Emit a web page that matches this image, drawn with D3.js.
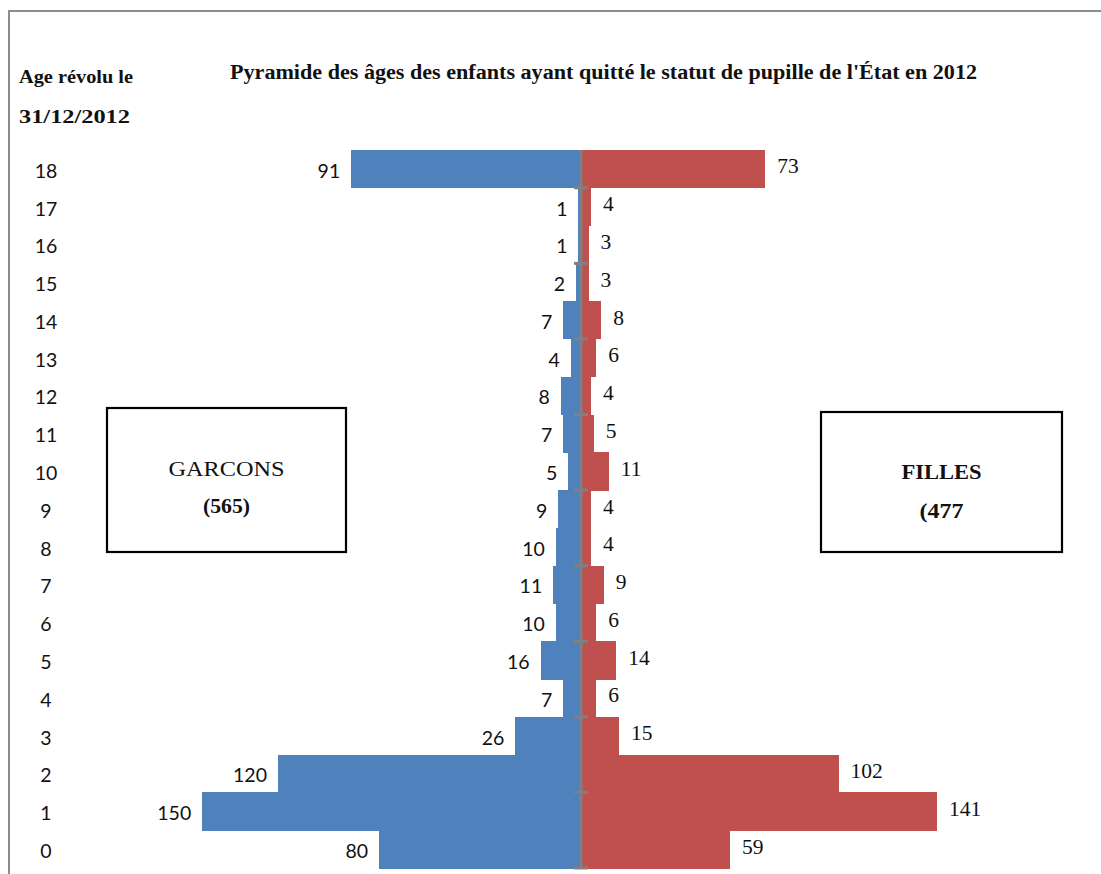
<!DOCTYPE html>
<html>
<head>
<meta charset="utf-8">
<script src="https://cdn.jsdelivr.net/npm/d3@7"></script>
<style>
  html, body { margin: 0; padding: 0; background: #fff; }
  svg { display: block; }
</style>
</head>
<body>
<svg id="chart" width="1101" height="874"></svg>
<script>
const ages = [18, 17, 16, 15, 14, 13, 12, 11, 10, 9, 8, 7, 6, 5, 4, 3, 2, 1, 0];
const garcons = [91, 1, 1, 2, 7, 4, 8, 7, 5, 9, 10, 11, 10, 16, 7, 26, 120, 150, 80];
const filles = [73, 4, 3, 3, 8, 6, 4, 5, 11, 4, 4, 9, 6, 14, 6, 15, 102, 141, 59];
const title = "Pyramide des âges des enfants ayant quitté le statut de pupille de l'État en 2012";
const yTitle = ["Age révolu le", "31/12/2012"];
const boxGarcons = ["GARCONS", "(565)"];
const boxFilles = ["FILLES", "(477"];

const svg = d3.select("#chart");
const serif = "'Liberation Serif', 'DejaVu Serif', serif";
const sans = "Lato, 'Open Sans', 'Liberation Sans', sans-serif";
const blue = "#4F81BD", red = "#C0504D", axisGray = "#808080";

// outer frame (top and left edges)
svg.append("line").attr("x1", 9).attr("x2", 1101).attr("y1", 11).attr("y2", 11)
  .attr("stroke", "#8c8c8c").attr("stroke-width", 2);
svg.append("line").attr("x1", 9).attr("x2", 9).attr("y1", 10).attr("y2", 874)
  .attr("stroke", "#8c8c8c").attr("stroke-width", 2);

const cx = 581;
const x = d3.scaleLinear().domain([-150, 150]).range([cx - 378.75, cx + 378.75]);
const y = d3.scaleBand().domain(ages).range([150, 868]).padding(0);
const bw = y.bandwidth();

// bars
const bars = svg.append("g").attr("shape-rendering", "crispEdges");
bars.append("g").selectAll("rect").data(ages).join("rect")
  .attr("x", (d, i) => x(-garcons[i]))
  .attr("y", d => y(d))
  .attr("width", (d, i) => x(0) - x(-garcons[i]))
  .attr("height", bw + 0.5)
  .attr("fill", blue);
bars.append("g").selectAll("rect").data(ages).join("rect")
  .attr("x", x(0))
  .attr("y", d => y(d))
  .attr("width", (d, i) => x(filles[i]) - x(0))
  .attr("height", bw + 0.5)
  .attr("fill", red);

// central axis
const ax = svg.append("g");
ax.append("line").attr("x1", x(0)).attr("x2", x(0)).attr("y1", y.range()[0]).attr("y2", y.range()[1] + 1)
  .attr("stroke", axisGray).attr("stroke-width", 3);
ax.selectAll("line.tick").data(ages.filter(a => a % 2 === 0)).join("line")
  .attr("class", "tick")
  .attr("x1", x(0) - 7).attr("x2", x(0) + 7)
  .attr("y1", d => y(d) + bw).attr("y2", d => y(d) + bw)
  .attr("stroke", axisGray).attr("stroke-width", 3);

// value labels
svg.append("g").selectAll("text").data(ages).join("text")
  .attr("x", (d, i) => x(-garcons[i]) - 11)
  .attr("y", d => y(d) + bw / 2 + 2)
  .attr("dy", "0.35em")
  .attr("text-anchor", "end")
  .attr("font-family", sans).attr("font-size", 19.5).attr("fill", "#111")
  .text((d, i) => garcons[i]);
svg.append("g").selectAll("text").data(ages).join("text")
  .attr("x", (d, i) => x(filles[i]) + 12)
  .attr("y", d => y(d) + bw / 2 - 3)
  .attr("dy", "0.35em")
  .attr("text-anchor", "start")
  .attr("font-family", serif).attr("font-size", 21.5).attr("fill", "#111")
  .text((d, i) => filles[i]);

// category labels
svg.append("g").selectAll("text").data(ages).join("text")
  .attr("x", 46)
  .attr("y", d => y(d) + bw / 2 + 2)
  .attr("dy", "0.35em")
  .attr("text-anchor", "middle")
  .attr("font-family", sans).attr("font-size", 19.5).attr("fill", "#111")
  .text(d => d);

// title
svg.append("text").attr("x", 230).attr("y", 79)
  .attr("textLength", 747).attr("lengthAdjust", "spacingAndGlyphs")
  .attr("font-family", serif).attr("font-weight", "bold").attr("font-size", 20).attr("fill", "#111")
  .text(title);
svg.append("text").attr("x", 19).attr("y", 83)
  .attr("textLength", 114).attr("lengthAdjust", "spacingAndGlyphs")
  .attr("font-family", serif).attr("font-weight", "bold").attr("font-size", 18).attr("fill", "#111")
  .text(yTitle[0]);
svg.append("text").attr("x", 19).attr("y", 123)
  .attr("textLength", 111).attr("lengthAdjust", "spacingAndGlyphs")
  .attr("font-family", serif).attr("font-weight", "bold").attr("font-size", 18).attr("fill", "#111")
  .text(yTitle[1]);

// boxes
function box(x0, y0, w, h, lines, weights, baselines, lengths) {
  const g = svg.append("g");
  g.append("rect").attr("x", x0).attr("y", y0).attr("width", w).attr("height", h)
    .attr("fill", "#fff").attr("stroke", "#000").attr("stroke-width", 2.2);
  lines.forEach((t, i) => {
    g.append("text").attr("x", x0 + w / 2).attr("y", baselines[i])
      .attr("text-anchor", "middle")
      .attr("textLength", lengths[i]).attr("lengthAdjust", "spacingAndGlyphs")
      .attr("font-family", serif).attr("font-weight", weights[i]).attr("font-size", 22).attr("fill", "#111")
      .text(t);
  });
}
box(107, 408, 239, 144, boxGarcons, ["normal", "bold"], [476, 513], [116, 47]);
box(821, 412, 241, 140, boxFilles, ["bold", "bold"], [479, 518], [80, 44]);
</script>
</body>
</html>
